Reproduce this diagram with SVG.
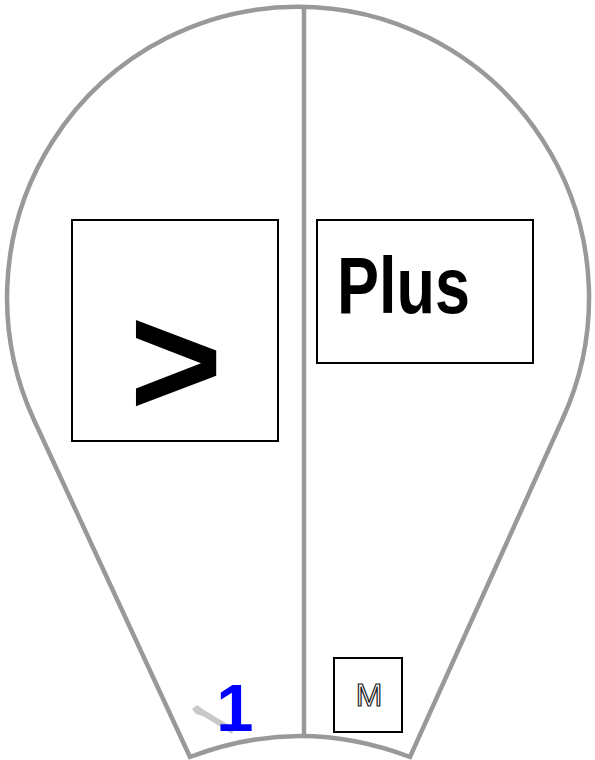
<svg xmlns="http://www.w3.org/2000/svg" width="595" height="760" viewBox="0 0 595 760">
<style>
.outline{fill:none;stroke:#999;stroke-width:4.5}
.box{fill:#fff;stroke:#000;stroke-width:2}
.big{font-family:"Comic Sans MS","Liberation Sans",sans-serif;font-weight:bold;fill:#000}
</style>
<rect width="595" height="760" fill="#fff"/>
<g id="balloon">
<path class="outline" d="M190,757 L34,420 A291,291 0 1 1 563,418 L410,757 Q300,715 190,757 Z"/>
</g>
<g id="connectors">
<line class="outline" x1="304" y1="6" x2="304" y2="734"/>
</g>
<g id="node-gt">
<rect class="box" x="72" y="220" width="206" height="221"/>
<text class="big" x="176" y="416" font-size="160" text-anchor="middle">&gt;</text>
</g>
<g id="node-plus">
<rect class="box" x="317" y="220" width="216" height="143"/>
<text class="big" x="337" y="313" font-size="80" textLength="133" lengthAdjust="spacingAndGlyphs">Plus</text>
</g>
<g id="node-m">
<rect class="box" x="334" y="658" width="68" height="74"/>
<text x="369" y="706" font-family="Liberation Sans,sans-serif" font-size="32" text-anchor="middle" fill="#fff" stroke="#222" stroke-width="1.2">M</text>
</g>
<g id="node-1">
<path d="M192,709 L197,705 L204,710 L234,728 L232,734 L203,716 L196,714 Z" fill="#c8c8c8"/>
<text x="235" y="731" font-family="Liberation Sans,sans-serif" font-weight="bold" font-size="67" text-anchor="middle" fill="#0000ff">1</text>
</g>
</svg>
